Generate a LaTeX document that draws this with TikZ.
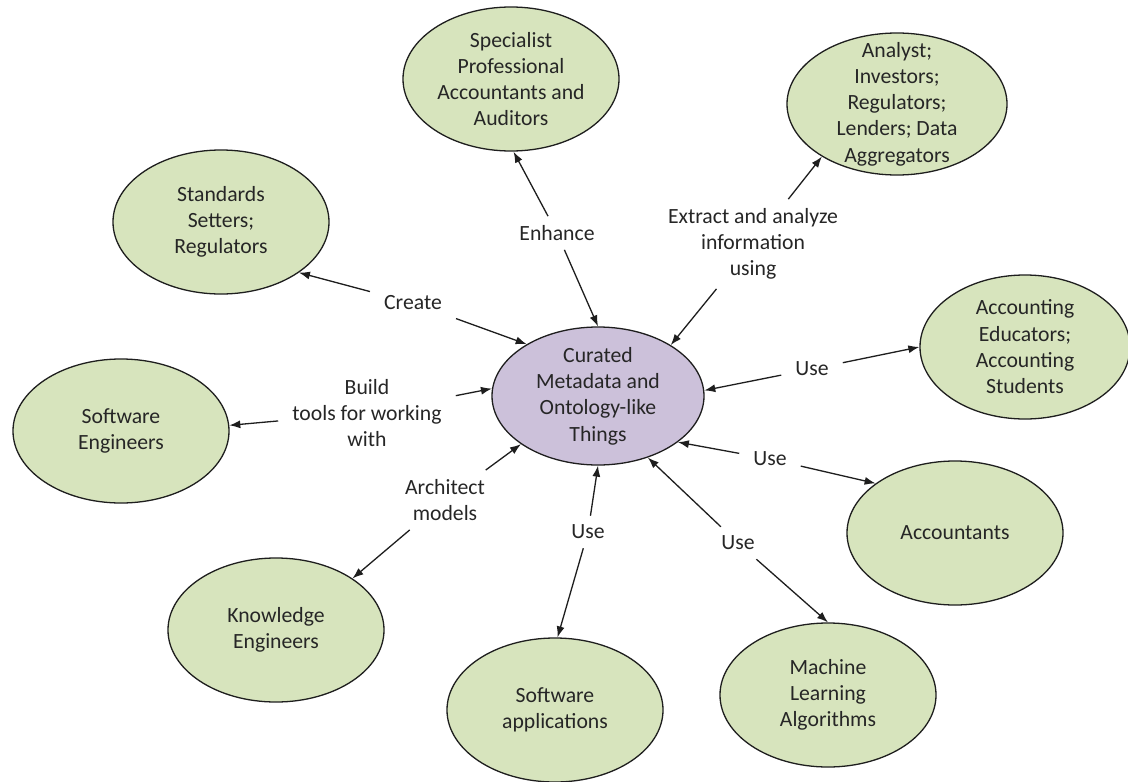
\documentclass[tikz,border=0pt]{standalone}
\usepackage{fontspec}
\setmainfont{Carlito}
\usetikzlibrary{shapes.geometric,arrows.meta}
\definecolor{grnfill}{RGB}{215,228,189}
\definecolor{purfill}{RGB}{204,193,218}
\definecolor{txtcol}{RGB}{38,38,38}
\definecolor{edgecol}{RGB}{30,30,30}
\begin{document}
\begin{tikzpicture}[x=1pt,y=-1pt,
  every node/.style={font=\fontsize{21.7}{26.3}\selectfont, text=txtcol},
  ell/.style={ellipse, draw=edgecol, line width=1.3pt, inner sep=0pt},
  grn/.style={ell, fill=grnfill, minimum width=216pt, minimum height=144pt},
  ctr/.style={ell, fill=purfill, minimum width=212pt, minimum height=138pt},
  txt/.style={align=center, inner sep=0pt},
  lbl/.style={align=center, inner xsep=14pt, inner ysep=9pt},
  arr/.style={-{Latex[length=11pt,width=8pt]}, line width=1.3pt, draw=edgecol}]
\fill[white] (0,0) rectangle (1128,782);
\useasboundingbox (0,0) rectangle (1128,782);

% central node
\node[ctr, label={[txt]center:Curated\\Metadata and\\Ontology-like\\Things}] (C) at (598,396) {};

% outer nodes
\node[grn, label={[txt]center:Specialist\\Professional\\Accountants and\\Auditors}] (S) at (511,79) {};
\node[grn, label={[txt]center:Standards\\Setters;\\Regulators}] (T) at (221,222) {};
\node[grn, minimum width=220pt, minimum height=142pt, label={[txt]center:Analyst;\\Investors;\\Regulators;\\Lenders; Data\\Aggregators}] (Y) at (897,104) {};
\node[grn, label={[txt]center:Software\\Engineers}] (E) at (121,431) {};
\node[grn, minimum width=210pt, label={[txt]center:Accounting\\Educators;\\Accounting\\Students}] (D) at (1025,347) {};
\node[grn, label={[txt]center:Knowledge\\Engineers}] (K) at (276,630) {};
\node[grn, label={[txt]center:Software\\applications}] (A) at (555,710) {};
\node[grn, label={[txt]center:Machine\\Learning\\Algorithms}] (M) at (828,695) {};
\node[grn, label={[txt]center:Accountants}] (N) at (955,533) {};

% connector labels
\node[lbl] (l1) at (557,233) {Enhance};
\node[lbl] (l2) at (413,303) {Create};
\node[lbl] (l3) at (367,413) {Build\\tools for working\\with};
\node[lbl] (l4) at (445,500) {Architect\\models};
\node[lbl] (l5) at (588,532) {Use};
\node[lbl] (l6) at (738,543) {Use};
\node[lbl] (l7) at (770,459) {Use};
\node[lbl] (l8) at (812,369) {Use};
\node[lbl] (l9) at (753,244) {Extract and analyze\\information\\using};

% connectors
\draw[arr] (l1) -- (S.-88);  \draw[arr] (l1) -- (C.90);
\draw[arr] (l2) -- (T.-33);  \draw[arr] (l2) -- (C.144);
\draw[arr] (l3) -- (E.3);    \draw[arr] (l3) -- (C.176);
\draw[arr] (l4) -- (K.34);   \draw[arr] (l4) -- (C.212);
\draw[arr] (l5) -- (A.88);   \draw[arr] (l5) -- (C.-90);
\draw[arr] (l6) -- (M.90);   \draw[arr] (l6) -- (C.-51);
\draw[arr] (l7) -- (N.148);  \draw[arr] (l7) -- (C.-30);
\draw[arr] (l8) -- (D.180);  \draw[arr] (l8) -- (C.3);
\draw[arr] (l9) -- (Y.215);  \draw[arr] (l9) -- (C.35);
\end{tikzpicture}
\end{document}
